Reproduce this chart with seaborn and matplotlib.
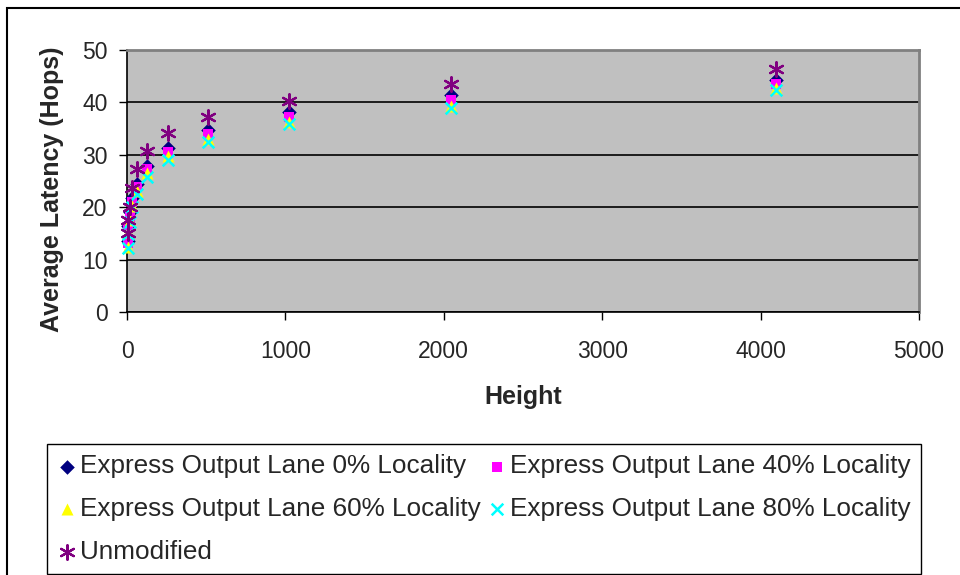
import matplotlib
matplotlib.use("Agg")
import matplotlib.pyplot as plt
import seaborn as sns
import pandas as pd
from matplotlib.patches import Rectangle

heights = [4, 8, 16, 32, 64, 128, 256, 512, 1024, 2048, 4096]
lane0 = [13.5, 16.5, 19.0, 21.8, 24.5, 27.9, 31.3, 34.8, 38.2, 41.4, 44.3]
lane40 = [13.2, 16.2, 18.2, 21.0, 23.8, 27.2, 30.5, 33.9, 37.2, 40.4, 43.6]
lane60 = [12.5, 15.2, 17.5, 20.3, 23.0, 26.6, 29.8, 33.0, 36.3, 39.4, 42.8]
lane80 = [12.2, 14.8, 17.2, 20.0, 22.5, 25.8, 29.0, 32.4, 35.8, 39.0, 42.4]
unmodified = [15.0, 17.5, 20.0, 23.6, 27.3, 30.8, 34.2, 37.2, 40.3, 43.5, 46.3]

labels = ["Express Output Lane 0% Locality", "Express Output Lane 40% Locality",
          "Express Output Lane 60% Locality", "Express Output Lane 80% Locality",
          "Unmodified"]
xticks = [0, 1000, 2000, 3000, 4000, 5000]
yticks = [0, 10, 20, 30, 40, 50]

sns.set_style("white")
plt.rcParams["font.family"] = ["Liberation Sans", "DejaVu Sans"]

fig = plt.figure(figsize=(9.6, 5.75), dpi=100)
ax = fig.add_axes([127/960, 1-312/575, (919-127)/960, (312-50)/575])
ax.set_facecolor("#C0C0C0")

series = [lane0, lane40, lane60, lane80, unmodified]
styles = [
    dict(marker="D", color="#000080", s=55, linewidth=0),
    dict(marker="s", color="#FF00FF", s=55, linewidth=0),
    dict(marker="^", color="#FFFF00", s=75, linewidth=0),
    dict(marker="x", color="#00FFFF", s=70, linewidth=1.8),
    dict(marker=(6, 2, 0), color="#800080", s=110, linewidth=1.6),
]
for vals, lab, st in zip(series, labels, styles):
    df = pd.DataFrame({"Height": heights, "Latency": vals})
    sns.scatterplot(data=df, x="Height", y="Latency", ax=ax, label=lab,
                    zorder=3, clip_on=False, **st)

ax.set_xlim(0, 5000)
ax.set_ylim(0, 50)
ax.set_xticks(xticks)
ax.set_yticks(yticks)
ax.grid(axis="y", color="black", linewidth=1.2, zorder=1)
ax.grid(axis="x", visible=False)
ax.set_axisbelow(True)

for side in ["top", "right"]:
    ax.spines[side].set_color("#808080")
    ax.spines[side].set_linewidth(2)
for side in ["left", "bottom"]:
    ax.spines[side].set_color("black")
    ax.spines[side].set_linewidth(1.2)

ax.tick_params(axis="both", which="major", direction="out", length=6,
               width=1, color="black", labelsize=16.5, left=True, bottom=True)
ax.tick_params(axis="x", pad=14)
ax.tick_params(axis="y", pad=8)

ax.set_xlabel("Height", fontsize=18, fontweight="bold", va="center")
ax.xaxis.set_label_coords(0.5, (312-397)/262)
ax.set_ylabel("Average Latency (Hops)", fontsize=18, fontweight="bold", va="center")
ax.yaxis.set_label_coords((52-127)/792, 0.47)

handles, labs = ax.get_legend_handles_labels()
order = [0, 2, 4, 1, 3]
leg = ax.legend([handles[i] for i in order], [labs[i] for i in order], ncol=2,
                loc="upper left",
                bbox_to_anchor=(47/960, 1-444/575), bbox_transform=fig.transFigure,
                fontsize=18.8, frameon=True, fancybox=False, framealpha=1,
                edgecolor="black", handlelength=0.7, handletextpad=0.15,
                columnspacing=0.3, labelspacing=0.72, borderpad=0.4,
                borderaxespad=0, markerscale=1.0)
leg.get_frame().set_linewidth(1.0)

fig.patches.append(Rectangle((7/960, -0.1), 1.2, 1-8/575+0.1, transform=fig.transFigure,
                             fill=False, edgecolor="black", linewidth=1.5))

fig.savefig("out.png", dpi=100)
